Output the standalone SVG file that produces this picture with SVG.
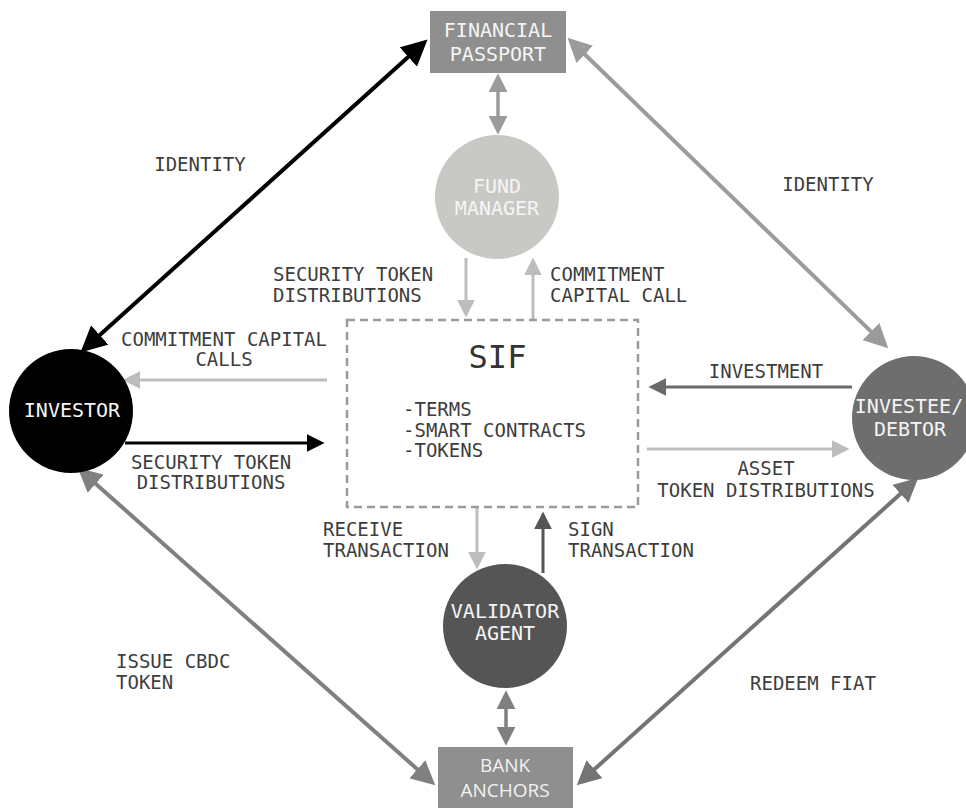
<svg xmlns="http://www.w3.org/2000/svg" width="966" height="808" viewBox="0 0 966 808">
<style>
.lbl{font-family:"DejaVu Sans Mono","Liberation Mono",monospace;font-size:19px;fill:#3d3d3d}
.nd{font-family:"DejaVu Sans Mono","Liberation Mono",monospace;font-size:20px;fill:#f5f5f5;text-anchor:middle}
.ndsans{font-family:"Open Sans","Noto Sans",sans-serif;font-size:19px;fill:#f2f2f2;text-anchor:middle}
</style>
<defs>
<marker id="mBlk" viewBox="0 0 10 10" refX="8" refY="5" markerWidth="26" markerHeight="26" markerUnits="userSpaceOnUse" orient="auto-start-reverse"><path d="M0,0L10,5L0,10z" fill="#000"/></marker>
<marker id="m9b" viewBox="0 0 10 10" refX="8" refY="5" markerWidth="24" markerHeight="24" markerUnits="userSpaceOnUse" orient="auto-start-reverse"><path d="M0,0L10,5L0,10z" fill="#9b9b9b"/></marker>
<marker id="m80" viewBox="0 0 10 10" refX="8" refY="5" markerWidth="24" markerHeight="24" markerUnits="userSpaceOnUse" orient="auto-start-reverse"><path d="M0,0L10,5L0,10z" fill="#808080"/></marker>
<marker id="m74" viewBox="0 0 10 10" refX="8" refY="5" markerWidth="24" markerHeight="24" markerUnits="userSpaceOnUse" orient="auto-start-reverse"><path d="M0,0L10,5L0,10z" fill="#747474"/></marker>
<marker id="s9b" viewBox="0 0 10 10" refX="8" refY="5" markerWidth="19" markerHeight="19" markerUnits="userSpaceOnUse" orient="auto-start-reverse"><path d="M0,0L10,5L0,10z" fill="#9b9b9b"/></marker>
<marker id="s80" viewBox="0 0 10 10" refX="8" refY="5" markerWidth="19" markerHeight="19" markerUnits="userSpaceOnUse" orient="auto-start-reverse"><path d="M0,0L10,5L0,10z" fill="#808080"/></marker>
<marker id="sLt" viewBox="0 0 10 10" refX="8" refY="5" markerWidth="18" markerHeight="18" markerUnits="userSpaceOnUse" orient="auto"><path d="M0,0L10,5L0,10z" fill="#bdbdbb"/></marker>
<marker id="sBlk" viewBox="0 0 10 10" refX="8" refY="5" markerWidth="18" markerHeight="18" markerUnits="userSpaceOnUse" orient="auto"><path d="M0,0L10,5L0,10z" fill="#000"/></marker>
<marker id="s6b" viewBox="0 0 10 10" refX="8" refY="5" markerWidth="18" markerHeight="18" markerUnits="userSpaceOnUse" orient="auto"><path d="M0,0L10,5L0,10z" fill="#6a6a6a"/></marker>
<marker id="s55" viewBox="0 0 10 10" refX="8" refY="5" markerWidth="18" markerHeight="18" markerUnits="userSpaceOnUse" orient="auto"><path d="M0,0L10,5L0,10z" fill="#555"/></marker>
</defs>
<rect width="966" height="808" fill="#fff"/>

<g id="connectors" fill="none">
<line x1="84.3" y1="349" x2="423.7" y2="43" stroke="#000" stroke-width="4" marker-start="url(#mBlk)" marker-end="url(#mBlk)"/>
<line x1="571" y1="41" x2="884.8" y2="344.9" stroke="#9b9b9b" stroke-width="4" marker-start="url(#m9b)" marker-end="url(#m9b)"/>
<line x1="81.3" y1="471" x2="431.7" y2="782" stroke="#808080" stroke-width="4" marker-start="url(#m80)" marker-end="url(#m80)"/>
<line x1="580.3" y1="782" x2="914.7" y2="481" stroke="#747474" stroke-width="4" marker-start="url(#m74)" marker-end="url(#m74)"/>
<line x1="498" y1="77" x2="498" y2="131" stroke="#9b9b9b" stroke-width="3.5" marker-start="url(#s9b)" marker-end="url(#s9b)"/>
<line x1="506" y1="694" x2="506" y2="742" stroke="#808080" stroke-width="3.5" marker-start="url(#s80)" marker-end="url(#s80)"/>
<line x1="327" y1="380" x2="126" y2="380" stroke="#bdbdbb" stroke-width="3" marker-end="url(#sLt)"/>
<line x1="125" y1="443" x2="321" y2="443" stroke="#000" stroke-width="3" marker-end="url(#sBlk)"/>
<line x1="852" y1="387" x2="652" y2="387" stroke="#6a6a6a" stroke-width="3" marker-end="url(#s6b)"/>
<line x1="647" y1="449" x2="846" y2="449" stroke="#bdbdbb" stroke-width="3" marker-end="url(#sLt)"/>
<line x1="466" y1="258" x2="466" y2="314" stroke="#bdbdbb" stroke-width="3" marker-end="url(#sLt)"/>
<line x1="533" y1="320" x2="533" y2="261" stroke="#bdbdbb" stroke-width="3" marker-end="url(#sLt)"/>
<line x1="477" y1="507" x2="477" y2="566" stroke="#bdbdbb" stroke-width="3" marker-end="url(#sLt)"/>
<line x1="543" y1="573" x2="543" y2="515" stroke="#555" stroke-width="3" marker-end="url(#s55)"/>
</g>

<g id="sif">
<rect x="347" y="320" width="291" height="187" fill="none" stroke="#9b9b9b" stroke-width="2.5" stroke-dasharray="8 5"/>
<text x="497.5" y="368" text-anchor="middle" font-family="DejaVu Sans Mono, monospace" font-size="32" fill="#333">SIF</text>
<text class="lbl" x="403" y="416">-TERMS</text>
<text class="lbl" x="403" y="437">-SMART CONTRACTS</text>
<text class="lbl" x="403" y="457">-TOKENS</text>
</g>

<g id="financial-passport">
<rect x="430" y="11" width="136" height="62" fill="#8f8f8f"/>
<text class="nd" x="498" y="37">FINANCIAL</text>
<text class="nd" x="498" y="61">PASSPORT</text>
</g>

<g id="fund-manager">
<circle cx="497" cy="197" r="62" fill="#c8c8c5"/>
<text class="nd" x="497" y="193">FUND</text>
<text class="nd" x="497" y="215">MANAGER</text>
</g>

<g id="investor">
<circle cx="71" cy="411" r="62" fill="#000"/>
<text class="nd" x="72" y="417">INVESTOR</text>
</g>

<g id="investee">
<circle cx="914" cy="418" r="62" fill="#6e6e6e"/>
<text class="nd" x="909" y="413">INVESTEE/</text>
<text class="nd" x="910" y="436">DEBTOR</text>
</g>

<g id="validator">
<circle cx="505" cy="626" r="62" fill="#555"/>
<text class="nd" x="505" y="618">VALIDATOR</text>
<text class="nd" x="505" y="640">AGENT</text>
</g>

<g id="bank-anchors">
<rect x="438" y="747" width="135" height="61" fill="#8f8f8f"/>
<text class="ndsans" x="505" y="772">BANK</text>
<text class="ndsans" x="505" y="797">ANCHORS</text>
</g>

<g id="labels">
<text class="lbl" x="200" y="171" text-anchor="middle">IDENTITY</text>
<text class="lbl" x="828" y="191" text-anchor="middle">IDENTITY</text>
<text class="lbl" x="273" y="281">SECURITY TOKEN</text>
<text class="lbl" x="273" y="302">DISTRIBUTIONS</text>
<text class="lbl" x="550" y="281">COMMITMENT</text>
<text class="lbl" x="550" y="302">CAPITAL CALL</text>
<text class="lbl" x="224" y="346" text-anchor="middle">COMMITMENT CAPITAL</text>
<text class="lbl" x="224" y="366" text-anchor="middle">CALLS</text>
<text class="lbl" x="211" y="469" text-anchor="middle">SECURITY TOKEN</text>
<text class="lbl" x="211" y="489" text-anchor="middle">DISTRIBUTIONS</text>
<text class="lbl" x="766" y="378" text-anchor="middle">INVESTMENT</text>
<text class="lbl" x="766" y="475" text-anchor="middle">ASSET</text>
<text class="lbl" x="766" y="497" text-anchor="middle">TOKEN DISTRIBUTIONS</text>
<text class="lbl" x="323" y="536">RECEIVE</text>
<text class="lbl" x="323" y="557">TRANSACTION</text>
<text class="lbl" x="568" y="536">SIGN</text>
<text class="lbl" x="568" y="557">TRANSACTION</text>
<text class="lbl" x="116" y="668">ISSUE CBDC</text>
<text class="lbl" x="116" y="689">TOKEN</text>
<text class="lbl" x="750" y="690">REDEEM FIAT</text>
</g>
</svg>
